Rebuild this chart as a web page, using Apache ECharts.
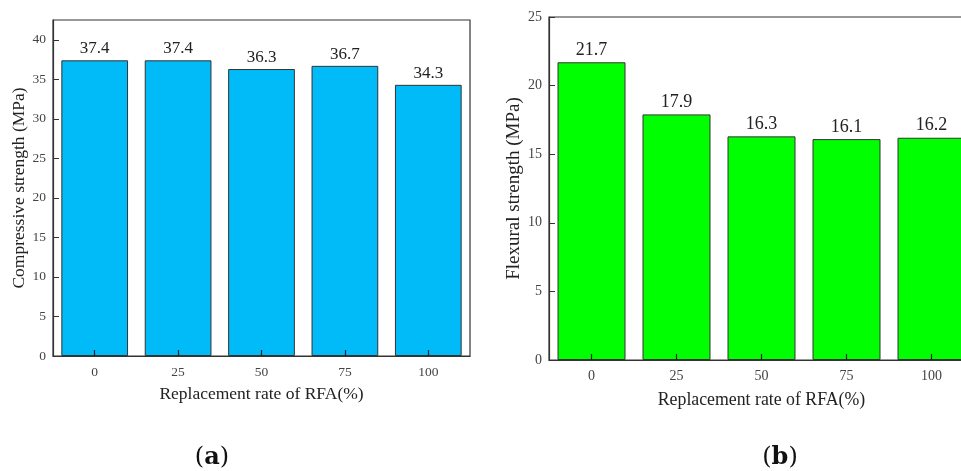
<!DOCTYPE html>
<html>
<head>
<meta charset="utf-8">
<script src="https://cdn.jsdelivr.net/npm/echarts@6/dist/echarts.min.js"></script>
<style>html,body{margin:0;padding:0;background:#fff;overflow:hidden;}#c{width:990px;height:471px;}</style>
</head>
<body>
<div id="c"></div>
<script>
const categories = ['0', '25', '50', '75', '100'];
const compressive = [37.4, 37.4, 36.3, 36.7, 34.3];
const flexural = [21.7, 17.9, 16.3, 16.1, 16.2];
const xName = 'Replacement rate of RFA(%)';
const yNameA = 'Compressive strength (MPa)';
const yNameB = 'Flexural strength (MPa)';

const serif = '"Liberation Serif", "DejaVu Serif", serif';
const chart = echarts.init(document.getElementById('c'), null, {renderer: 'canvas'});

function xAxis(gi, fs, lfs, gap) {
  return {
    type: 'category', gridIndex: gi, data: categories, z: 10,
    name: xName, nameLocation: 'middle', nameGap: gap,
    nameTextStyle: {fontFamily: serif, fontSize: fs, color: '#222'},
    axisLine: {lineStyle: {color: '#333', width: 1.2}},
    axisTick: {show: true, inside: true, alignWithLabel: true, length: 6, lineStyle: {color: '#222', width: 1.2}},
    axisLabel: {fontFamily: serif, fontSize: lfs, color: '#444', margin: 9}
  };
}
function yAxis(gi, max, fs, lfs, gap, name) {
  return {
    type: 'value', gridIndex: gi, min: 0, max: max, interval: 5, z: 10,
    name: name, nameLocation: 'middle', nameGap: gap,
    nameTextStyle: {fontFamily: serif, fontSize: fs, color: '#222'},
    axisLine: {show: true, lineStyle: {color: '#333', width: 1.2}},
    axisTick: {show: true, inside: true, length: 6, lineStyle: {color: '#333'}},
    axisLabel: {fontFamily: serif, fontSize: lfs, color: '#444', margin: 7, showMaxLabel: max % 5 === 0,
      formatter: v => (v % 5 === 0 ? String(v) : '')},
    splitLine: {show: false}
  };
}

chart.setOption({
  animation: false,
  grid: [
    {left: 53, top: 20, width: 417, height: 336, show: true, borderColor: '#333', borderWidth: 1.2, backgroundColor: 'transparent'},
    {left: 549, top: 17, width: 425, height: 343, show: true, borderColor: '#333', borderWidth: 1.2, backgroundColor: 'transparent'}
  ],
  xAxis: [xAxis(0, 17.5, 13.5, 29), xAxis(1, 17.8, 14, 31)],
  yAxis: [yAxis(0, 42.5, 17.5, 13.5, 24, yNameA), yAxis(1, 25, 19, 14, 25, yNameB)],
  series: [
    {type: 'bar', xAxisIndex: 0, yAxisIndex: 0, data: compressive, barCategoryGap: '20%', z: 1,
      itemStyle: {color: '#00BBF7', borderColor: '#333', borderWidth: 1},
      label: {show: true, position: 'top', distance: 3, fontFamily: serif, fontSize: 17, color: '#222'}},
    {type: 'bar', xAxisIndex: 1, yAxisIndex: 1, data: flexural, barCategoryGap: '20%', z: 1,
      itemStyle: {color: '#00FF00', borderColor: '#333', borderWidth: 1},
      label: {show: true, position: 'top', distance: 3, fontFamily: serif, fontSize: 18, color: '#222'}}
  ],
  graphic: [
    {type: 'text', x: 212, y: 458, style: {text: '({b|a})', align: 'center', verticalAlign: 'middle',
      font: '24px "DejaVu Serif", serif', fill: '#111', rich: {b: {fontWeight: 'bold', fontSize: 24, fontFamily: '"DejaVu Serif", serif', fill: '#111'}}}},
    {type: 'text', x: 780, y: 458, style: {text: '({b|b})', align: 'center', verticalAlign: 'middle',
      font: '24px "DejaVu Serif", serif', fill: '#111', rich: {b: {fontWeight: 'bold', fontSize: 24, fontFamily: '"DejaVu Serif", serif', fill: '#111'}}}}
  ]
});
</script>
</body>
</html>
